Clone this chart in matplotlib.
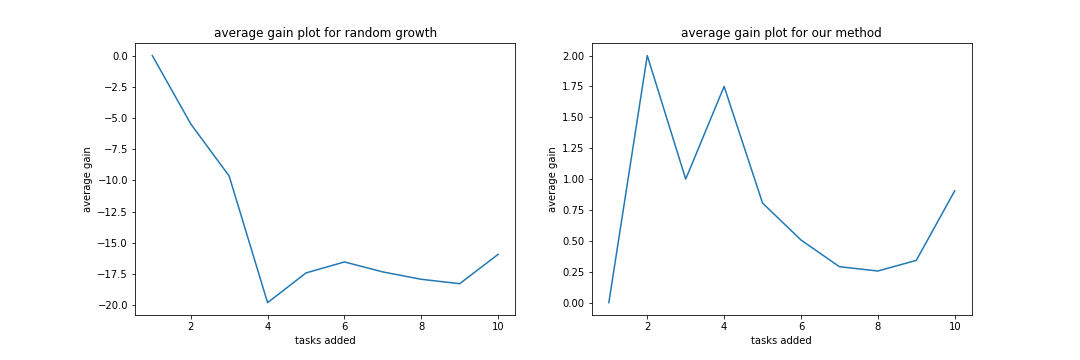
import matplotlib.pyplot as plt

tasks = [1, 2, 3, 4, 5, 6, 7, 8, 9, 10]
random_gain = [0.0, -5.47, -9.65, -19.79, -17.41, -16.53, -17.33, -17.92, -18.27, -15.92]
method_gain = [0.0, 2.0, 1.0, 1.75, 0.806, 0.507, 0.291, 0.256, 0.342, 0.905]

fig, (ax1, ax2) = plt.subplots(1, 2, figsize=(15, 5), dpi=72)
plt.subplots_adjust(bottom=0.125)

ax1.plot(tasks, random_gain)
ax1.set_title('average gain plot for random growth')
ax1.set_xlabel('tasks added')
ax1.set_ylabel('average gain')

ax2.plot(tasks, method_gain)
ax2.set_title('average gain plot for our method')
ax2.set_xlabel('tasks added')
ax2.set_ylabel('average gain')

plt.savefig('out.png', dpi=72)
